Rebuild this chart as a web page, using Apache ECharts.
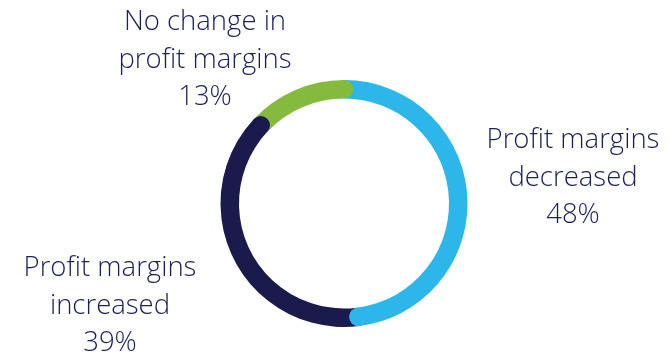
<!DOCTYPE html>
<html><head><meta charset="utf-8">
<script src="https://cdn.jsdelivr.net/npm/echarts@6/dist/echarts.min.js"></script>
<style>html,body{margin:0;padding:0;background:#fff}#c{width:669px;height:357px}</style>
</head><body><div id="c"></div>
<script>
const categories = ['Profit margins\ndecreased', 'Profit margins\nincreased', 'No change in\nprofit margins'];
const values = [48, 39, 13];
const colors = ['#2cb6e9', '#1b1a4d', '#84bb3f'];
const labelPos = [[573, 178], [110, 306], [205, 60]];

const CX = 344, CY = 203.5, R_IN = 105, R_OUT = 123.5;
const total = values.reduce((a, b) => a + b, 0);
let cum = 0;
const capData = values.map((v, i) => { cum += v; return { value: [1, cum / total * 100], itemStyle: { color: colors[i], opacity: 1 } }; });

const chart = echarts.init(document.getElementById('c'), null, { renderer: 'canvas' });
chart.setOption({
  animation: false,
  polar: { center: [CX, CY], radius: (R_IN + R_OUT) / 2 },
  angleAxis: { type: 'value', min: 0, max: 100, startAngle: 90, clockwise: true, show: false },
  radiusAxis: { type: 'value', min: 0, max: 1, show: false },
  series: [
    {
      type: 'pie',
      center: [CX, CY],
      radius: [R_IN, R_OUT],
      startAngle: 90,
      clockwise: true,
      silent: true,
      itemStyle: { borderWidth: 0 },
      data: categories.map((c, i) => ({ name: c, value: values[i], itemStyle: { color: colors[i] } })),
      label: {
        show: true,
        formatter: p => p.name + '\n' + p.value + '%',
        fontFamily: 'Open Sans',
        fontWeight: 350,
        fontSize: 27.5,
        lineHeight: 37.5,
        color: '#1b2158',
        align: 'center',
        overflow: 'none',
        width: 250
      },
      labelLine: { show: false },
      labelLayout: p => ({ x: labelPos[p.dataIndex][0], y: labelPos[p.dataIndex][1], align: 'center', verticalAlign: 'middle' })
    },
    {
      type: 'scatter',
      coordinateSystem: 'polar',
      symbol: 'circle',
      symbolSize: R_OUT - R_IN,
      silent: true,
      itemStyle: { opacity: 1 },
      data: capData,
      z: 5
    }
  ]
});
</script></body></html>
